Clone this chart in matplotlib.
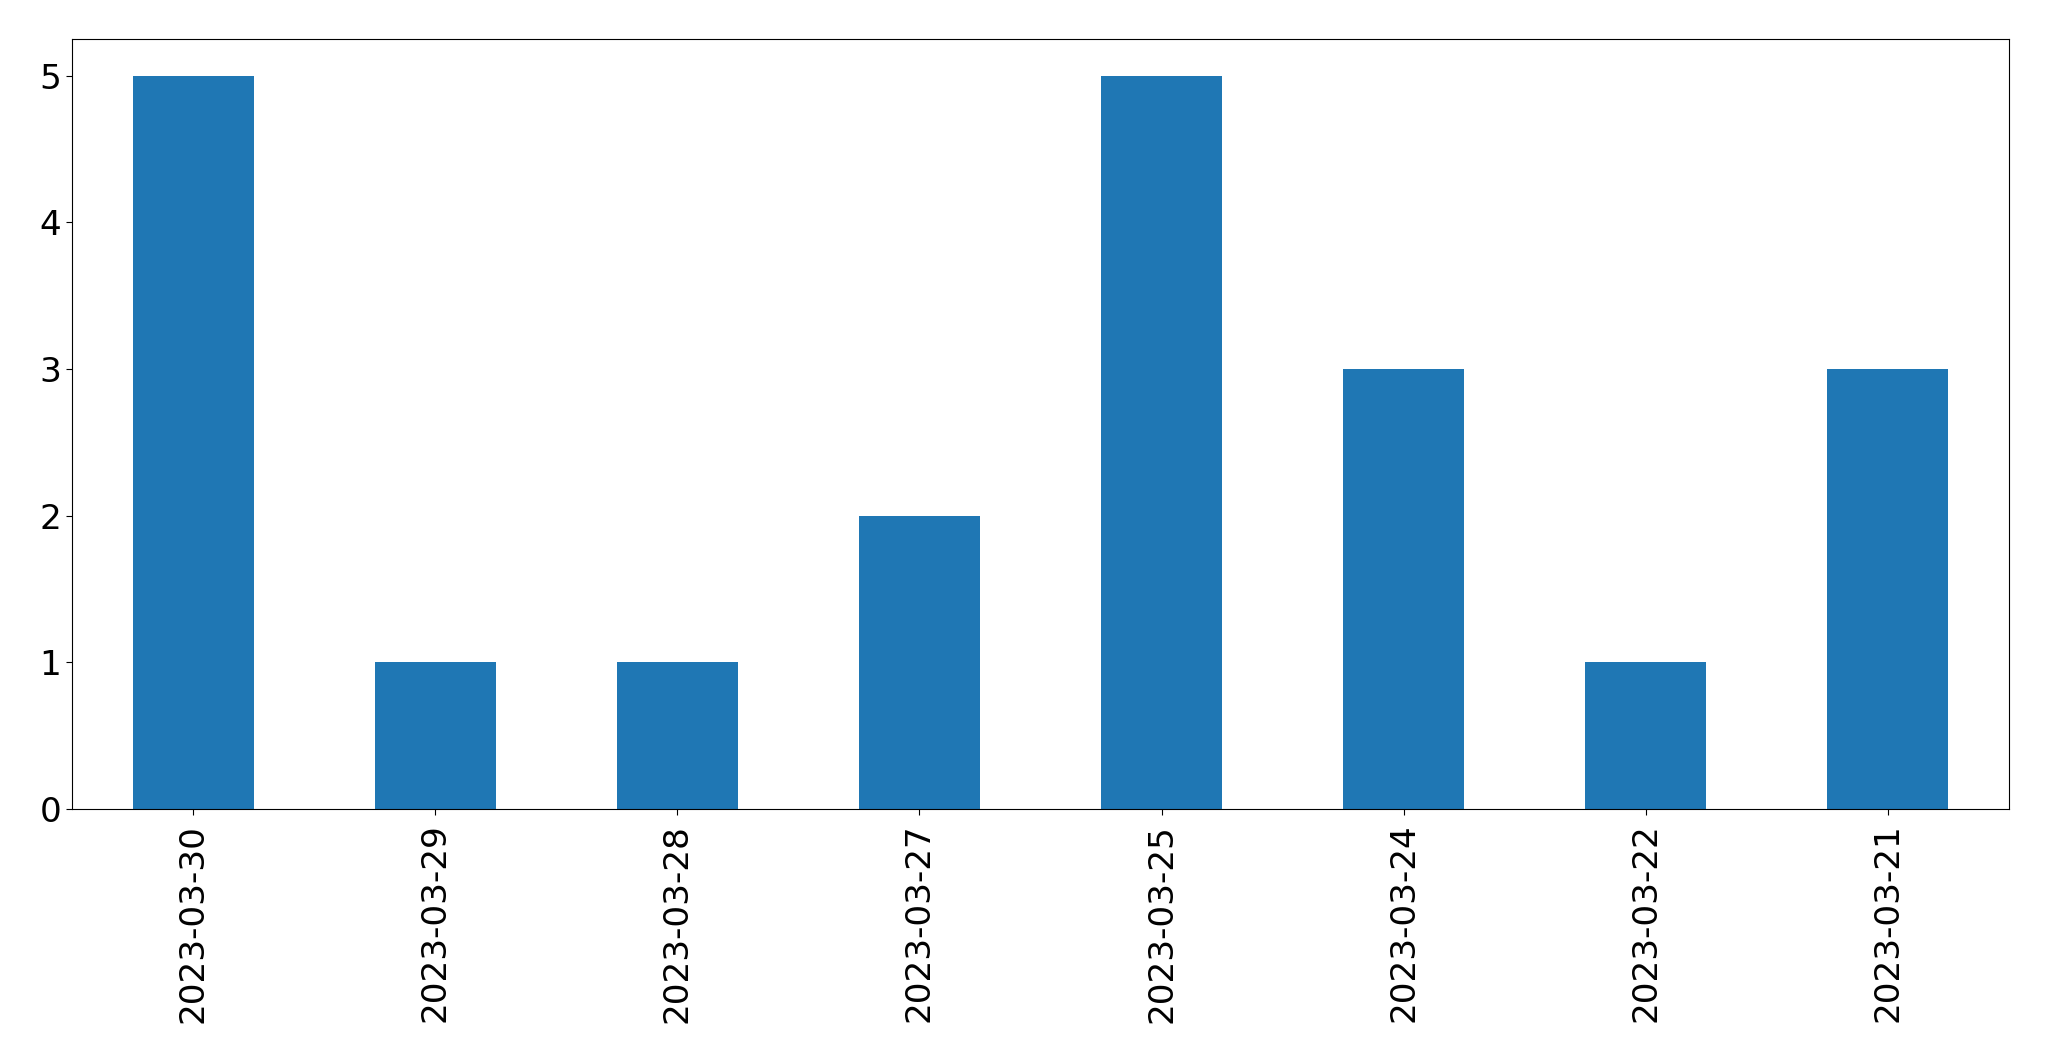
import matplotlib
matplotlib.use("Agg")
import matplotlib.pyplot as plt

dates = ["2023-03-30", "2023-03-29", "2023-03-28", "2023-03-27",
         "2023-03-25", "2023-03-24", "2023-03-22", "2023-03-21"]
counts = [5, 1, 1, 2, 5, 3, 1, 3]

fig = plt.figure(figsize=(20.49, 10.61), dpi=100)
ax = fig.add_axes([72 / 2049, 1 - 809 / 1061, (2009 - 72) / 2049, (809 - 39) / 1061])
x = list(range(len(dates)))
ax.bar(x, counts, width=0.5, color="#1f77b4")
ax.set_xlim(-0.5, len(dates) - 0.5)
ax.set_ylim(0, 5.25)
ax.set_xticks(x)
ax.set_xticklabels(dates, rotation=90)
ax.set_yticks(range(0, 6))
ax.tick_params(labelsize=24.7, length=4.1)
ax.tick_params(axis="x", pad=6.5)
fig.savefig("out.png", dpi=100)
